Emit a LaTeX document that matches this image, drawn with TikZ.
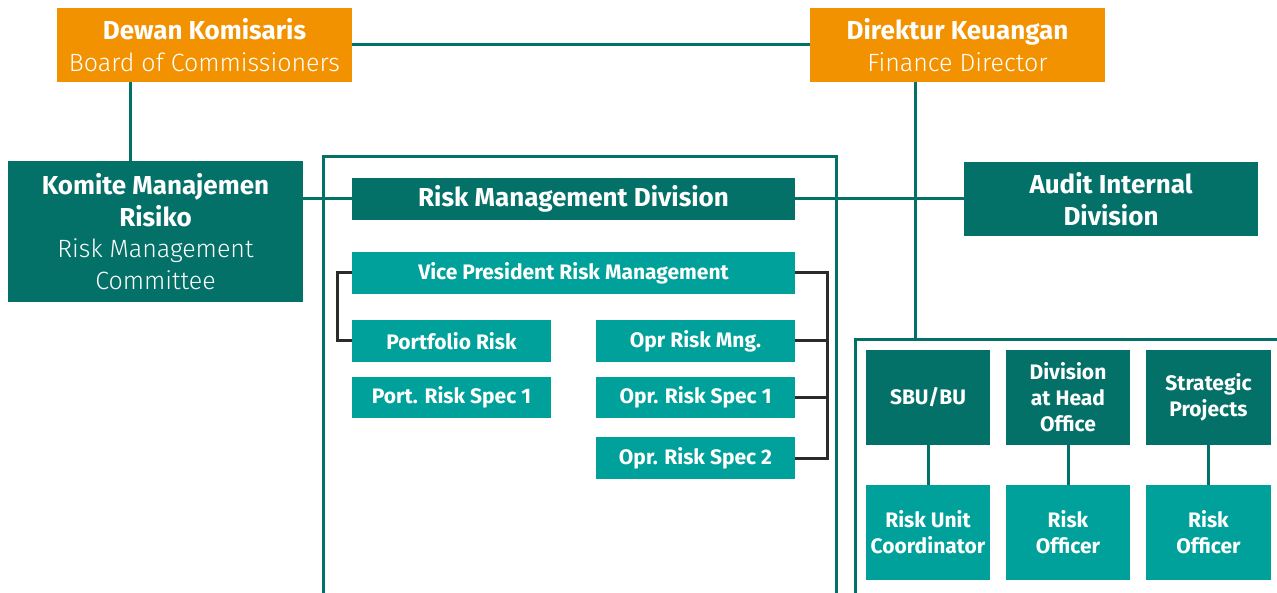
\documentclass[tikz,border=0pt]{standalone}
\usepackage{fontspec}
\setmainfont{Fira Sans}
\newfontfamily\lightf{Fira Sans Light}
\definecolor{orng}{HTML}{F39200}
\definecolor{dteal}{HTML}{037168}
\definecolor{bteal}{HTML}{00A19A}
\definecolor{brk}{HTML}{2B2B2B}
\newcommand{\lt}[1]{{\lightf\mdseries\fontsize{25}{31}\selectfont #1}}
\tikzset{
  box/.style={rectangle, inner sep=0pt, outer sep=0pt, align=center, text=white},
  orbox/.style={box, fill=orng},
  dkbox/.style={box, fill=dteal},
  ltbox/.style={box, fill=bteal},
  bigtxt/.style={font=\fontsize{26}{31.5}\selectfont\bfseries},
  smtxt/.style={font=\fontsize{21}{26}\selectfont\bfseries},
  link/.style={draw=dteal, line width=3pt},
  brkt/.style={draw=brk, line width=3pt},
  frame/.style={draw=dteal, line width=3pt}
}
\begin{document}
\begin{tikzpicture}[x=1pt,y=-1pt]
\useasboundingbox (0,0) rectangle (1277,593);
% frames
\begin{scope}
\clip (0,0) rectangle (1277,593);
\draw[frame] (323,600) -- (323,157) -- (836,157) -- (836,600);
\draw[frame] (855,600) -- (855,340) -- (1285,340);
\end{scope}
\coordinate (ftop) at (915,340);
% nodes
\node[orbox, bigtxt, minimum width=295pt, minimum height=74pt] (dk) at (204.5,45)
  {Dewan Komisaris\\\lt{Board of Commissioners}};
\node[orbox, bigtxt, minimum width=295pt, minimum height=74pt] (dir) at (957.5,45)
  {Direktur Keuangan\\\lt{Finance Director}};
\node[dkbox, bigtxt, minimum width=295pt, minimum height=141pt] (km) at (155.5,231.5)
  {Komite Manajemen\\Risiko\\\lt{Risk Management}\\\lt{Committee}};
\node[dkbox, bigtxt, minimum width=443pt, minimum height=42pt] (rmd) at (573.5,199)
  {Risk Management Division};
\node[dkbox, bigtxt, minimum width=294pt, minimum height=74pt] (aud) at (1111,199)
  {Audit Internal\\Division};
\node[ltbox, smtxt, minimum width=443pt, minimum height=42pt] (vp) at (573.5,273)
  {Vice President Risk Management};
\node[ltbox, smtxt, minimum width=199pt, minimum height=42pt] (pr) at (451.5,341) {Portfolio Risk};
\node[ltbox, smtxt, minimum width=199pt, minimum height=41pt] (prs) at (451.5,397.5) {Port. Risk Spec 1};
\node[ltbox, smtxt, minimum width=199pt, minimum height=42pt] (orm) at (695.5,341) {Opr Risk Mng.};
\node[ltbox, smtxt, minimum width=199pt, minimum height=41pt] (os1) at (695.5,397.5) {Opr. Risk Spec 1};
\node[ltbox, smtxt, minimum width=199pt, minimum height=42pt] (os2) at (695.5,458) {Opr. Risk Spec 2};
\node[dkbox, smtxt, minimum width=124pt, minimum height=95pt] (sbu) at (928,397.5) {SBU/BU};
\node[dkbox, smtxt, minimum width=124pt, minimum height=95pt] (dho) at (1068,397.5) {Division\\at Head\\Office};
\node[dkbox, smtxt, minimum width=125pt, minimum height=95pt] (sp) at (1208.5,397.5) {Strategic\\Projects};
\node[ltbox, smtxt, minimum width=124pt, minimum height=95pt] (ruc) at (928,532.5) {Risk Unit\\Coordinator};
\node[ltbox, smtxt, minimum width=124pt, minimum height=95pt] (ro1) at (1068,532.5) {Risk\\Officer};
\node[ltbox, smtxt, minimum width=125pt, minimum height=95pt] (ro2) at (1208.5,532.5) {Risk\\Officer};
% connectors
\draw[link] (dk.east) -- (dir.west);
\draw[link] ([xshift=73pt]dk.south west) -- ([xshift=73pt]dk.south west |- km.north);
\draw[link] (km.east |- rmd.west) -- (rmd.west);
\draw[link] (rmd.east) -- (aud.west);
\draw[link] ([xshift=105pt]dir.south west) -- (ftop);
\draw[brkt] (vp.west) -- ++(-15,0) |- (pr.west);
\draw[brkt] (vp.east) -- ++(32,0) |- (os2.east);
\draw[brkt] (orm.east) -- ++(32,0);
\draw[brkt] (os1.east) -- ++(32,0);
\draw[link] (sbu.south) -- (ruc.north);
\draw[link] (dho.south) -- (ro1.north);
\draw[link] (sp.south) -- (ro2.north);
\end{tikzpicture}
\end{document}
